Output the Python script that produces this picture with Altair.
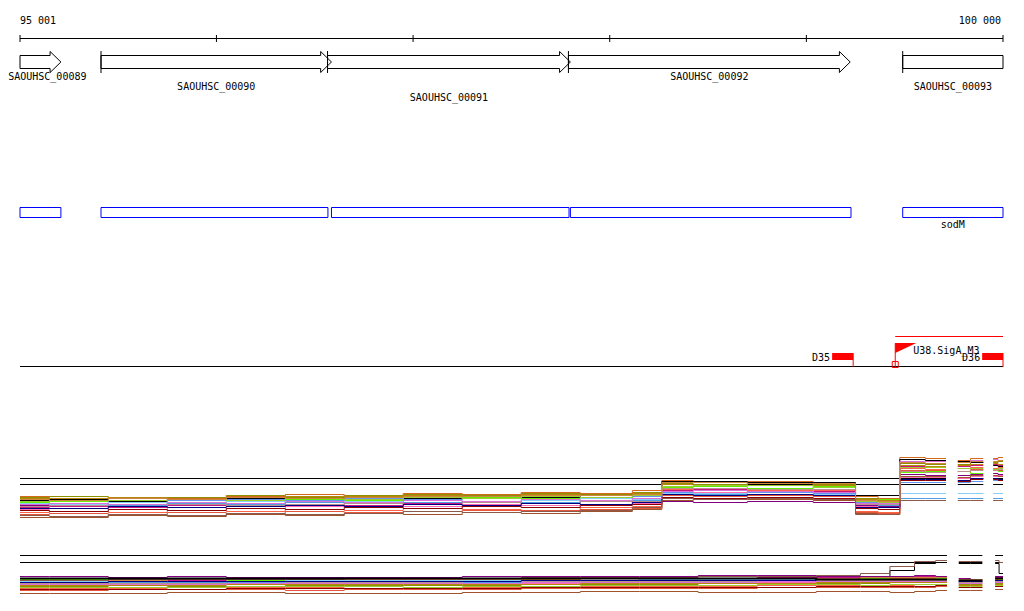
import altair as alt
import pandas as pd

# ---------------- data ----------------
VIEW_START, VIEW_END = 95001, 100000

ruler_ticks = [95001, 96000, 97000, 98000, 99000, 100000]
ruler_labels = ["95 001", "100 000"]
ruler_label_pos = [95001, 100000]

gene_names = ["SAOUHSC_00089", "SAOUHSC_00090", "SAOUHSC_00091", "SAOUHSC_00092", "SAOUHSC_00093"]
gene_starts = [94700, 95413, 96565, 97790, 99490]
gene_ends = [95209, 96585, 97800, 99223, 100090]
gene_label_rows = [0, 1, 2, 0, 1]

feat_starts = [94700, 95413, 96585, 97800, 99490]
feat_ends = [95209, 96567, 97793, 99227, 100090]
feat_labels = ["", "", "", "", "sodM"]

site_names = ["D35", "D36"]
site_starts = [99131, 99894]
site_ends = [99238, 100000]

prom_names = ["U38.SigA_M3"]
prom_pos = [99452]
prom_ends = [100000]

sample_names = ["s%02d" % i for i in range(1, 22)]
sample_colors = ["#8f8f00", "#d2691e", "#000000", "#66ee00", "#800080", "#c71585", "#6495ed",
                 "#87cefa", "#4f9fe0", "#ff69b4", "#ff6347", "#a0522d", "#e2573b", "#b8860b",
                 "#bc8f8f", "#000080", "#9acd32", "#8b0000", "#da70d6", "#cd853f", "#8b5a4a"]

# panel 1 (upper expression track)
p1_pos = [95001, 95300, 95600, 95900, 96200, 96500, 96800, 97100, 97400, 97700, 98000, 98230,
          98300, 98550, 98850, 99220, 99280, 99450, 99500, 99710, 99770, 99900, 99950, 100000]
p1_seg = [0] * 20 + [1] * 2 + [2] * 2
p1_refs = [5.2, 4.6]
p1_values = {
    "s01": [3.3, 3.4, 3.2, 3.3, 3.5, 3.3, 3.5, 3.6, 3.5, 3.7, 3.6, 3.8, 4.7, 4.6, 4.8, 4.6, 3.2, 3.1, 6.7, 6.6, 6.6, 6.8, 6.8, 6.9],
    "s02": [3.4, 3.1, 3.3, 3.2, 3.4, 3.6, 3.4, 3.7, 3.6, 3.8, 3.7, 4.0, 5.0, 4.9, 4.9, 4.7, 3.4, 3.2, 7.3, 7.2, 7.0, 7.2, 7.2, 7.3],
    "s03": [3.0, 3.1, 2.9, 3.1, 3.2, 3.1, 3.3, 3.2, 3.4, 3.3, 3.5, 3.6, 4.9, 4.9, 4.8, 4.8, 3.5, 3.5, 7.1, 7.0, 6.9, 6.8, 6.5, 6.4],
    "s04": [2.8, 2.9, 3.0, 2.8, 3.0, 3.1, 3.0, 3.1, 3.3, 3.2, 3.2, 3.4, 4.3, 4.4, 4.2, 4.4, 3.0, 3.1, 5.8, 5.9, 5.9, 5.7, 6.0, 5.9],
    "s05": [2.5, 2.4, 2.6, 2.7, 2.6, 2.8, 2.7, 2.8, 2.9, 3.0, 2.9, 2.8, 2.9, 2.8, 2.9, 2.8, 2.5, 2.4, 5.6, 5.5, 5.5, 5.6, 5.7, 5.6],
    "s06": [2.3, 2.4, 2.3, 2.5, 2.4, 2.6, 2.5, 2.7, 2.6, 2.8, 2.9, 2.9, 4.0, 4.1, 3.9, 3.9, 2.7, 2.6, 6.4, 6.3, 6.4, 6.5, 6.6, 6.5],
    "s07": [2.9, 3.0, 2.8, 3.0, 3.1, 3.0, 3.2, 3.1, 3.2, 3.4, 3.3, 3.4, 3.8, 3.7, 3.8, 3.7, 2.8, 2.9, 4.8, 4.8, 4.8, 4.9, 5.0, 5.0],
    "s08": [2.7, 2.6, 2.8, 2.7, 2.9, 2.8, 2.9, 3.0, 2.9, 3.0, 3.2, 3.1, 3.7, 3.7, 3.6, 3.6, 2.7, 2.7, 3.7, 3.7, 3.7, 3.7, 3.7, 3.7],
    "s09": [2.6, 2.7, 2.5, 2.7, 2.6, 2.8, 2.7, 2.8, 2.9, 2.8, 3.0, 3.0, 3.5, 3.6, 3.6, 3.5, 2.6, 2.5, 3.2, 3.2, 3.2, 3.2, 3.2, 3.2],
    "s10": [2.1, 2.2, 2.1, 2.3, 2.2, 2.4, 2.3, 2.4, 2.6, 2.5, 2.6, 2.7, 3.9, 3.8, 3.9, 3.8, 2.4, 2.3, 5.3, 5.3, 5.2, 5.4, 5.4, 5.5],
    "s11": [1.8, 1.9, 1.8, 2.0, 1.9, 2.1, 2.0, 2.2, 2.1, 1.9, 2.3, 2.4, 4.1, 4.2, 4.0, 4.0, 1.9, 1.8, 6.2, 6.1, 6.2, 6.3, 6.2, 6.3],
    "s12": [1.3, 1.3, 1.5, 1.4, 1.6, 1.5, 1.7, 1.6, 1.8, 1.7, 1.9, 2.1, 3.0, 3.1, 3.1, 3.0, 1.7, 1.6, 5.4, 5.4, 5.3, 5.5, 5.5, 5.4],
    "s13": [1.6, 1.7, 1.6, 1.8, 1.7, 1.9, 1.8, 1.9, 2.0, 2.0, 2.1, 2.2, 3.5, 3.4, 3.5, 3.4, 1.8, 1.7, 6.0, 6.0, 5.9, 6.1, 6.1, 6.0],
    "s14": [3.2, 3.2, 3.3, 3.1, 3.3, 3.4, 3.4, 3.5, 3.4, 3.6, 3.5, 3.7, 4.6, 4.5, 4.7, 4.5, 3.1, 3.0, 6.5, 6.4, 6.5, 6.6, 6.7, 6.6],
    "s15": [2.4, 2.5, 2.4, 2.6, 2.5, 2.6, 2.7, 2.6, 2.8, 2.7, 2.9, 2.9, 4.2, 4.2, 4.1, 4.1, 2.6, 2.6, 5.9, 5.8, 5.9, 6.0, 6.0, 6.1],
    "s16": [2.2, 2.2, 2.4, 2.3, 2.4, 2.5, 2.4, 2.6, 2.5, 2.7, 2.6, 2.8, 3.6, 3.5, 3.6, 3.5, 2.3, 2.3, 5.1, 5.1, 5.0, 5.2, 5.2, 5.1],
    "s17": [2.9, 3.0, 3.0, 3.1, 3.0, 3.2, 3.1, 3.3, 3.2, 3.4, 3.3, 3.5, 4.4, 4.5, 4.5, 4.3, 2.9, 2.8, 6.3, 6.3, 6.2, 6.2, 6.1, 6.2],
    "s18": [2.0, 1.9, 2.1, 2.0, 2.2, 2.1, 2.3, 2.2, 2.4, 2.3, 2.5, 2.6, 3.3, 3.2, 3.3, 3.2, 2.2, 2.1, 5.0, 5.0, 4.9, 5.1, 5.1, 5.0],
    "s19": [2.6, 2.7, 2.6, 2.8, 2.7, 2.9, 2.8, 3.0, 2.9, 3.1, 3.0, 3.2, 3.9, 4.0, 3.9, 3.8, 2.7, 2.7, 6.9, 6.9, 6.8, 7.0, 7.1, 7.0],
    "s20": [3.1, 3.0, 3.2, 3.1, 3.3, 3.2, 3.3, 3.4, 3.4, 3.5, 3.5, 3.6, 4.8, 4.8, 4.7, 4.7, 3.0, 2.9, 6.8, 6.7, 6.8, 6.9, 6.9, 7.0],
    "s21": [1.5, 1.4, 1.6, 1.5, 1.7, 1.6, 1.7, 1.9, 1.8, 1.9, 2.0, 2.3, 3.2, 3.1, 3.2, 3.1, 1.6, 1.6, 3.0, 3.0, 3.0, 3.0, 3.0, 3.0],
}

# panel 2 (lower expression track)
p2_pos = [95001, 95300, 95600, 95900, 96200, 96500, 96800, 97100, 97400, 97700, 98000, 98300,
          98600, 98900, 99200, 99350, 99500, 99600, 99715, 99775, 99895, 99960, 100000]
p2_seg = [0] * 19 + [1] * 2 + [2] * 2
p2_refs = [9.0, 7.6]
p2_mean = [4.4, 4.4, 4.4, 4.4, 4.4, 4.4, 4.4, 4.4, 4.4, 4.4, 4.4, 4.4, 4.4, 4.4, 4.2, 4.2, 4.2, 4.2, 4.2, 4.0, 4.0, 4.4, 4.4]
p2_values = {
    "s01": [2.8, 2.8, 3.0, 2.8, 2.8, 3.0, 3.0, 3.0, 3.0, 3.2, 3.2, 3.2, 3.4, 3.4, 3.4, 3.4, 3.6, 3.6, 3.6, 3.2, 3.2, 3.4, 3.4],
    "s02": [3.6, 3.6, 3.6, 3.8, 3.8, 3.6, 3.8, 3.8, 4.0, 4.0, 4.0, 4.2, 4.2, 4.2, 4.2, 4.4, 4.4, 4.4, 4.4, 3.8, 3.6, 4.2, 4.0],
    "s03": [3.4, 3.4, 3.4, 3.6, 3.6, 3.6, 3.6, 3.8, 3.8, 3.8, 4.0, 4.0, 4.0, 4.2, 4.4, 4.8, 6.0, 7.4, 7.6, 7.4, 7.4, 7.4, 5.4],
    "s04": [4.2, 4.2, 4.0, 4.0, 4.0, 4.2, 4.2, 4.2, 4.4, 4.4, 4.4, 4.4, 4.4, 4.6, 4.4, 4.4, 4.6, 4.6, 4.4, 3.6, 3.8, 4.0, 4.2],
    "s05": [4.8, 4.8, 4.6, 4.8, 4.6, 4.6, 4.6, 4.6, 4.8, 4.8, 4.8, 4.8, 5.0, 5.0, 4.8, 4.8, 4.8, 5.0, 4.8, 4.4, 4.2, 4.8, 4.8],
    "s06": [4.0, 3.8, 4.0, 4.0, 4.2, 4.0, 4.0, 4.2, 4.2, 4.2, 4.4, 4.4, 4.4, 4.6, 4.6, 4.6, 4.6, 4.8, 4.6, 4.0, 4.0, 4.6, 4.6],
    "s07": [3.4, 3.4, 3.4, 3.6, 3.6, 3.6, 3.4, 3.6, 3.6, 3.6, 3.8, 3.8, 3.8, 3.8, 4.0, 4.0, 4.0, 4.0, 4.0, 3.6, 3.6, 3.8, 3.8],
    "s08": [3.8, 3.8, 3.8, 3.8, 3.8, 4.0, 4.0, 4.0, 4.0, 4.0, 4.0, 4.2, 4.2, 4.2, 4.2, 4.2, 4.2, 4.2, 4.2, 3.8, 3.8, 4.0, 4.0],
    "s09": [3.6, 3.6, 3.6, 3.6, 3.8, 3.8, 3.8, 3.8, 3.6, 3.8, 3.8, 4.0, 4.0, 4.0, 4.0, 4.0, 4.2, 4.2, 4.2, 3.8, 3.8, 3.8, 3.8],
    "s10": [3.0, 3.0, 3.2, 3.2, 3.2, 3.2, 3.4, 3.4, 3.4, 3.4, 3.6, 3.6, 3.6, 3.6, 3.6, 3.8, 3.8, 3.8, 3.8, 3.4, 3.4, 3.6, 3.6],
    "s11": [2.4, 2.4, 2.4, 2.6, 2.6, 2.6, 2.4, 2.6, 2.6, 2.8, 2.8, 2.8, 2.8, 3.0, 3.0, 3.0, 3.0, 3.2, 3.2, 3.0, 3.0, 3.2, 3.2],
    "s12": [1.4, 1.4, 1.4, 1.6, 1.6, 1.4, 1.4, 1.4, 1.6, 1.6, 1.8, 1.8, 1.6, 1.6, 1.8, 1.8, 1.6, 1.8, 2.0, 2.0, 2.0, 2.2, 2.2],
    "s13": [2.0, 2.0, 2.2, 2.2, 2.2, 2.0, 2.2, 2.2, 2.2, 2.4, 2.4, 2.4, 2.4, 2.6, 2.6, 2.6, 2.6, 2.6, 2.8, 2.6, 2.6, 2.8, 2.8],
    "s14": [3.0, 3.0, 3.0, 3.0, 3.2, 3.2, 3.2, 3.2, 3.2, 3.2, 3.4, 3.4, 3.4, 3.4, 3.6, 3.6, 3.6, 3.6, 3.6, 3.0, 3.0, 3.2, 3.2],
    "s15": [3.4, 3.4, 3.4, 3.4, 3.4, 3.6, 3.6, 3.6, 3.8, 3.8, 3.8, 3.8, 3.8, 4.0, 4.0, 4.0, 4.0, 4.0, 4.0, 3.6, 3.6, 3.8, 3.8],
    "s16": [3.6, 3.6, 3.8, 3.8, 3.8, 3.8, 3.8, 3.8, 3.8, 4.0, 4.0, 4.0, 4.0, 4.0, 4.2, 4.2, 4.2, 4.2, 4.2, 3.8, 3.8, 4.0, 4.0],
    "s17": [2.6, 2.6, 2.6, 2.6, 2.8, 2.8, 2.8, 2.6, 2.8, 2.8, 3.0, 3.0, 3.0, 3.2, 3.2, 3.0, 3.2, 3.2, 3.2, 2.8, 2.8, 3.0, 3.0],
    "s18": [2.2, 2.2, 2.2, 2.2, 2.4, 2.4, 2.4, 2.4, 2.4, 2.6, 2.6, 2.6, 2.6, 2.6, 2.8, 2.8, 2.8, 2.8, 3.0, 2.6, 2.6, 2.8, 2.8],
    "s19": [3.2, 3.2, 3.2, 3.2, 3.4, 3.4, 3.4, 3.4, 3.4, 3.6, 3.6, 3.6, 3.6, 3.8, 3.8, 3.8, 3.8, 3.8, 3.8, 3.4, 3.4, 3.6, 3.6],
    "s20": [4.0, 4.0, 4.0, 4.2, 4.2, 4.2, 4.2, 4.2, 4.2, 4.2, 4.4, 4.4, 4.4, 4.4, 4.4, 4.6, 4.6, 4.6, 4.6, 4.2, 4.2, 4.4, 4.4],
    "s21": [4.0, 4.0, 4.2, 4.2, 4.2, 4.2, 4.4, 4.4, 4.4, 4.6, 4.6, 4.6, 4.8, 4.8, 5.0, 5.4, 6.8, 7.8, 8.0, 7.8, 7.8, 8.0, 7.6],
}

# ---------------- layout helpers ----------------
def Y(y):       # page pixel -> plot coordinate
    return y - 8

def P(y):       # centre of a page pixel row
    return y - 8 + 0.5

HEAD_BP = 55    # arrow head length (bp)
FLAG_BP = 107   # promoter flag length (bp)
LABEL_MIN_BP = 95140  # keeps the first gene label inside the page
FONT = "DejaVu Sans Mono"
XS = alt.Scale(domain=[VIEW_START, VIEW_END], nice=False, zero=False)


def X(field):
    return alt.X(field, scale=XS, axis=None)


def segs_of(pos, seg):
    out = {}
    for p, s in zip(pos, seg):
        out.setdefault(s, []).append(p)
    return [(min(v), max(v)) for v in out.values()]


# ---------------- tables ----------------
ruler_df = pd.DataFrame({"start": [VIEW_START], "end": [VIEW_END]})
tick_df = pd.DataFrame({"pos": ruler_ticks})
rlab_df = pd.DataFrame({"label": ruler_labels, "pos": ruler_label_pos,
                        "align": ["left", "right"]})

poly = []
ticks = []
glab = []
for n, s, e, r in zip(gene_names, gene_starts, gene_ends, gene_label_rows):
    s0 = max(s, VIEW_START)
    if e <= VIEW_END:
        h = e - HEAD_BP
        pts = [(s0, 55), (h, 55), (h, 51), (e, 61.5), (h, 72), (h, 68), (s0, 68), (s0, 55)]
        e0 = e
    else:
        e0 = VIEW_END
        pts = [(s0, 55), (e0, 55), (e0, 68), (s0, 68), (s0, 55)]
    for k, (x, y) in enumerate(pts):
        poly.append({"gene": n, "k": k, "x": x, "py": P(y)})
    if s >= VIEW_START:
        ticks.append({"pos": s})
    glab.append({"label": n, "mid": max((s0 + e0) / 2, LABEL_MIN_BP), "row": r})
poly_df = pd.DataFrame(poly)
gtick_df = pd.DataFrame(ticks)
glab_df = pd.DataFrame(glab)

feat_df = pd.DataFrame({"start": [max(v, VIEW_START) for v in feat_starts],
                        "end": [min(v, VIEW_END) for v in feat_ends],
                        "label": feat_labels})
feat_df["mid"] = (feat_df["start"] + feat_df["end"]) / 2
featlab_df = feat_df[feat_df["label"] != ""]

site_df = pd.DataFrame({"name": site_names, "start": site_starts, "end": site_ends})
prom_df = pd.DataFrame({"name": prom_names, "pos": prom_pos, "end": prom_ends})
flag_rows = []
for p in prom_pos:
    flag_rows.append({"x": p, "top": Y(343), "bot": Y(353)})
    flag_rows.append({"x": p + FLAG_BP, "top": Y(343), "bot": Y(343)})
flag_df = pd.DataFrame(flag_rows)
base_df = pd.DataFrame({"start": [VIEW_START], "end": [VIEW_END]})


def long_df(pos, seg, values):
    rows = []
    for name, vals in values.items():
        assert len(vals) == len(pos), name
        for p, sg, v in zip(pos, seg, vals):
            rows.append({"series": name, "pos": p, "seg": sg, "val": v})
    return pd.DataFrame(rows)


p1_df = long_df(p1_pos, p1_seg, p1_values)
p2_df = long_df(p2_pos, p2_seg, p2_values)
p2_mean_df = long_df(p2_pos, p2_seg, {"mean": p2_mean})
p1_ref_df = pd.DataFrame([{"val": v, "start": a, "end": b, "ref": i}
                          for i, v in enumerate(p1_refs) for a, b in segs_of(p1_pos, p1_seg)])
p2_ref_df = pd.DataFrame([{"val": v, "start": a, "end": b, "ref": i}
                          for i, v in enumerate(p2_refs) for a, b in segs_of(p2_pos, p2_seg)])

Y1 = alt.Scale(domain=[0, 10], range=[P(530), P(430)], nice=False, zero=False)
Y2 = alt.Scale(domain=[0, 10], range=[P(600), P(550)], nice=False, zero=False)
CS = alt.Scale(domain=sample_names, range=sample_colors)

# ---------------- layers ----------------
layers = []

layers.append(alt.Chart(ruler_df).mark_rule(color="black", strokeWidth=1).encode(
    x=X("start:Q"), x2="end:Q", y=alt.value(P(38))))
layers.append(alt.Chart(tick_df).mark_rule(color="black", strokeWidth=1).encode(
    x=X("pos:Q"), y=alt.value(Y(35)), y2=alt.value(Y(42))))
for al in ["left", "right"]:
    layers.append(alt.Chart(rlab_df[rlab_df["align"] == al]).mark_text(
        font=FONT, fontSize=10, align=al, baseline="alphabetic", color="black",
        dx=0 if al == "left" else -2).encode(
        x=X("pos:Q"), y=alt.value(Y(24)), text="label:N"))

layers.append(alt.Chart(poly_df).mark_line(color="black", strokeWidth=1, strokeJoin="miter").encode(
    x=X("x:Q"), y=alt.Y("py:Q", scale=None, axis=None), detail="gene:N", order="k:Q"))
layers.append(alt.Chart(gtick_df).mark_rule(color="black", strokeWidth=1).encode(
    x=X("pos:Q"), y=alt.value(Y(51)), y2=alt.value(Y(73))))
layers.append(alt.Chart(glab_df).mark_text(
    font=FONT, fontSize=10, align="center", baseline="alphabetic", color="black").encode(
    x=X("mid:Q"),
    y=alt.Y("row:Q", scale=alt.Scale(domain=[0, 2], range=[Y(80), Y(100.5)], nice=False, zero=False), axis=None),
    text="label:N"))

layers.append(alt.Chart(feat_df).mark_rect(fillOpacity=0, stroke="#0000ff", strokeWidth=1).encode(
    x=X("start:Q"), x2="end:Q", y=alt.value(P(207)), y2=alt.value(P(217))))
layers.append(alt.Chart(featlab_df).mark_text(
    font=FONT, fontSize=10, align="center", baseline="alphabetic", color="black").encode(
    x=X("mid:Q"), y=alt.value(Y(228)), text="label:N"))

layers.append(alt.Chart(base_df).mark_rule(color="black", strokeWidth=1).encode(
    x=X("start:Q"), x2="end:Q", y=alt.value(P(366))))
layers.append(alt.Chart(site_df).mark_rect(color="#ff0000").encode(
    x=X("start:Q"), x2="end:Q", y=alt.value(Y(353)), y2=alt.value(Y(360))))
layers.append(alt.Chart(site_df).mark_rule(color="#ff0000", strokeWidth=1).encode(
    x=X("end:Q"), y=alt.value(Y(353)), y2=alt.value(Y(367))))
layers.append(alt.Chart(site_df).mark_text(
    font=FONT, fontSize=10, align="right", baseline="alphabetic", color="black", dx=-2).encode(
    x=X("start:Q"), y=alt.value(Y(360.5)), text="name:N"))

layers.append(alt.Chart(prom_df).mark_rule(color="#ff0000", strokeWidth=1).encode(
    x=X("pos:Q"), x2="end:Q", y=alt.value(P(336))))
layers.append(alt.Chart(prom_df).mark_rule(color="#ff0000", strokeWidth=1).encode(
    x=X("pos:Q"), y=alt.value(Y(343)), y2=alt.value(Y(367))))
layers.append(alt.Chart(flag_df).mark_area(color="#ff0000").encode(
    x=X("x:Q"), y=alt.Y("top:Q", scale=None, axis=None), y2="bot:Q"))
layers.append(alt.Chart(prom_df).mark_point(shape="square", size=36, filled=False,
                                             color="#ff0000", strokeWidth=1, opacity=1).encode(
    x=X("pos:Q"), y=alt.value(Y(364.5))))
layers.append(alt.Chart(prom_df).mark_text(
    font=FONT, fontSize=10, align="left", baseline="alphabetic", color="black", dx=18).encode(
    x=X("pos:Q"), y=alt.value(Y(353.5)), text="name:N"))

# expression panels
layers.append(alt.Chart(p1_ref_df).mark_rule(color="black", strokeWidth=1).encode(
    x=X("start:Q"), x2="end:Q", y=alt.Y("val:Q", scale=Y1, axis=None)))
layers.append(alt.Chart(p1_df).mark_line(interpolate="step", strokeWidth=1).encode(
    x=X("pos:Q"), y=alt.Y("val:Q", scale=Y1, axis=None),
    color=alt.Color("series:N", scale=CS, legend=None),
    detail="seg:N", order="pos:Q"))

layers.append(alt.Chart(p2_ref_df).mark_rule(color="black", strokeWidth=1).encode(
    x=X("start:Q"), x2="end:Q", y=alt.Y("val:Q", scale=Y2, axis=None)))
layers.append(alt.Chart(p2_df).mark_line(interpolate="step", strokeWidth=1).encode(
    x=X("pos:Q"), y=alt.Y("val:Q", scale=Y2, axis=None),
    color=alt.Color("series:N", scale=CS, legend=None),
    detail="seg:N", order="pos:Q"))
layers.append(alt.Chart(p2_mean_df).mark_line(interpolate="step", strokeWidth=2, color="black").encode(
    x=X("pos:Q"), y=alt.Y("val:Q", scale=Y2, axis=None),
    detail="seg:N", order="pos:Q"))

chart = alt.layer(*layers).resolve_scale(y="independent").properties(
    width=983, height=596,
    padding={"left": 12, "top": 0, "right": 12, "bottom": 0},
    autosize=alt.AutoSizeParams(type="none"),
    background="white",
).configure_view(strokeWidth=0)

chart.save("out.html", embed_options={"renderer": "svg", "actions": False})
